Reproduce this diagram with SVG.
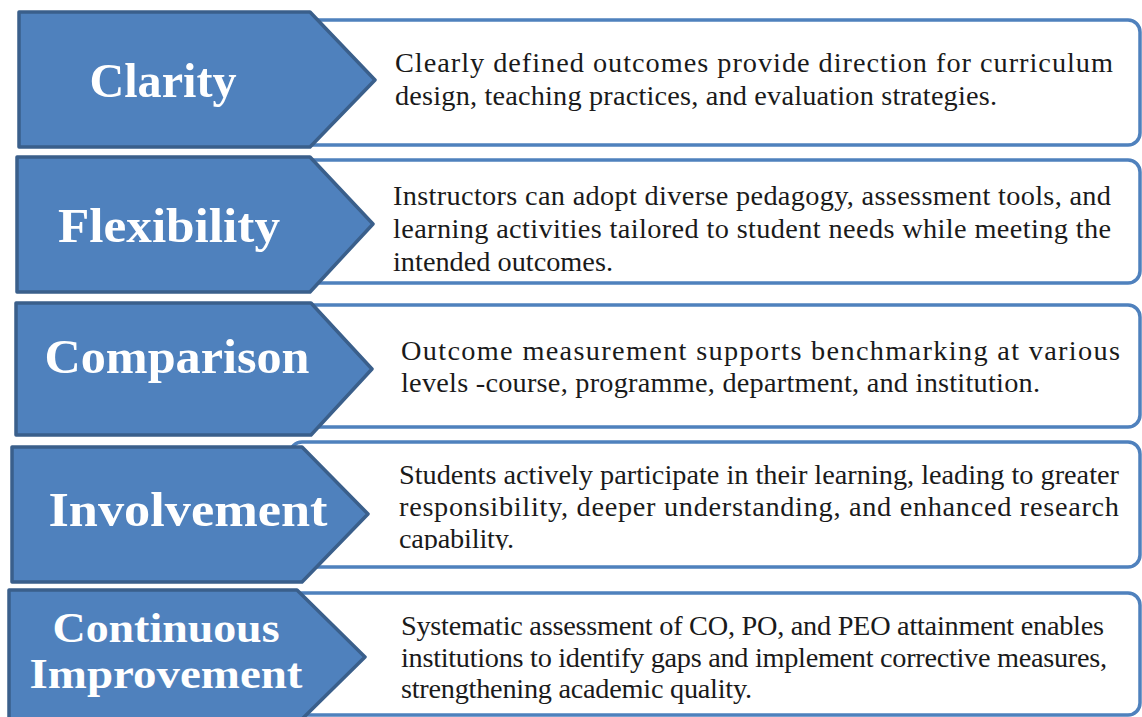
<svg xmlns="http://www.w3.org/2000/svg" width="1142" height="717" viewBox="0 0 1142 717">
<style>
.box{fill:#ffffff;stroke:#4f81bd;stroke-width:3.5}
.chev{fill:#4f81bd;stroke:#3a5f8b;stroke-width:3.5;stroke-linejoin:round}
.title{font-family:"Liberation Serif","Times New Roman",serif;font-weight:bold;fill:#ffffff;text-anchor:middle}
.body{font-family:"Liberation Serif","Times New Roman",serif;font-size:28.3px;fill:#1a1a1a}
</style>
<defs>
<clipPath id="clip4"><rect x="380" y="450" width="760" height="100"/></clipPath>
</defs>
<rect width="1142" height="717" fill="#ffffff"/>
<g id="connectors"></g>

<g id="row-clarity">
<rect class="box" x="300" y="20" width="840" height="125" rx="12"/>
<path class="chev" d="M19 12 H310 L375 80 L310 147 H19 Z"/>
<text class="title" x="163" y="97" font-size="48" textLength="147" lengthAdjust="spacingAndGlyphs">Clarity</text>
<text class="body" x="395" y="72" textLength="718" lengthAdjust="spacing">Clearly defined outcomes provide direction for curriculum</text>
<text class="body" x="395" y="105" textLength="602" lengthAdjust="spacing">design, teaching practices, and evaluation strategies.</text>
</g>

<g id="row-flexibility">
<rect class="box" x="300" y="160" width="840" height="123" rx="12"/>
<path class="chev" d="M17 157 H310 L373 224 L310 292 H17 Z"/>
<text class="title" x="169" y="242" font-size="48" textLength="222" lengthAdjust="spacingAndGlyphs">Flexibility</text>
<text class="body" x="393" y="205" textLength="718" lengthAdjust="spacing">Instructors can adopt diverse pedagogy, assessment tools, and</text>
<text class="body" x="393" y="238" textLength="718" lengthAdjust="spacing">learning activities tailored to student needs while meeting the</text>
<text class="body" x="393" y="271" textLength="220" lengthAdjust="spacing">intended outcomes.</text>
</g>

<g id="row-comparison">
<rect class="box" x="300" y="305" width="840" height="122" rx="12"/>
<path class="chev" d="M16 303 H311 L372 369 L311 435 H16 Z"/>
<text class="title" x="177" y="373" font-size="48" textLength="265" lengthAdjust="spacingAndGlyphs">Comparison</text>
<text class="body" x="401" y="360" textLength="719" lengthAdjust="spacing">Outcome measurement supports benchmarking at various</text>
<text class="body" x="401" y="392" textLength="639" lengthAdjust="spacing">levels -course, programme, department, and institution.</text>
</g>

<g id="row-involvement">
<rect class="box" x="290" y="442" width="850" height="125" rx="12"/>
<path class="chev" d="M12 447 H302 L368 514 L302 582 H12 Z"/>
<text class="title" x="188" y="526" font-size="48" textLength="279" lengthAdjust="spacingAndGlyphs">Involvement</text>
<g clip-path="url(#clip4)">
<text class="body" x="399" y="484" textLength="720" lengthAdjust="spacing">Students actively participate in their learning, leading to greater</text>
<text class="body" x="399" y="516" textLength="720" lengthAdjust="spacing">responsibility, deeper understanding, and enhanced research</text>
<text class="body" x="399" y="548" textLength="115" lengthAdjust="spacing">capability.</text>
</g>
</g>

<g id="row-continuous-improvement">
<rect class="box" x="290" y="593" width="850" height="122" rx="12"/>
<path class="chev" d="M9 590 H297 L365 657 L297 724 H9 Z"/>
<text class="title" x="166" y="642" font-size="43" textLength="227" lengthAdjust="spacingAndGlyphs">Continuous</text>
<text class="title" x="166" y="688" font-size="43" textLength="273" lengthAdjust="spacingAndGlyphs">Improvement</text>
<text class="body" x="401" y="635" textLength="703" lengthAdjust="spacing">Systematic assessment of CO, PO, and PEO attainment enables</text>
<text class="body" x="401" y="667" textLength="706" lengthAdjust="spacing">institutions to identify gaps and implement corrective measures,</text>
<text class="body" x="401" y="698" textLength="351" lengthAdjust="spacing">strengthening academic quality.</text>
</g>
</svg>
